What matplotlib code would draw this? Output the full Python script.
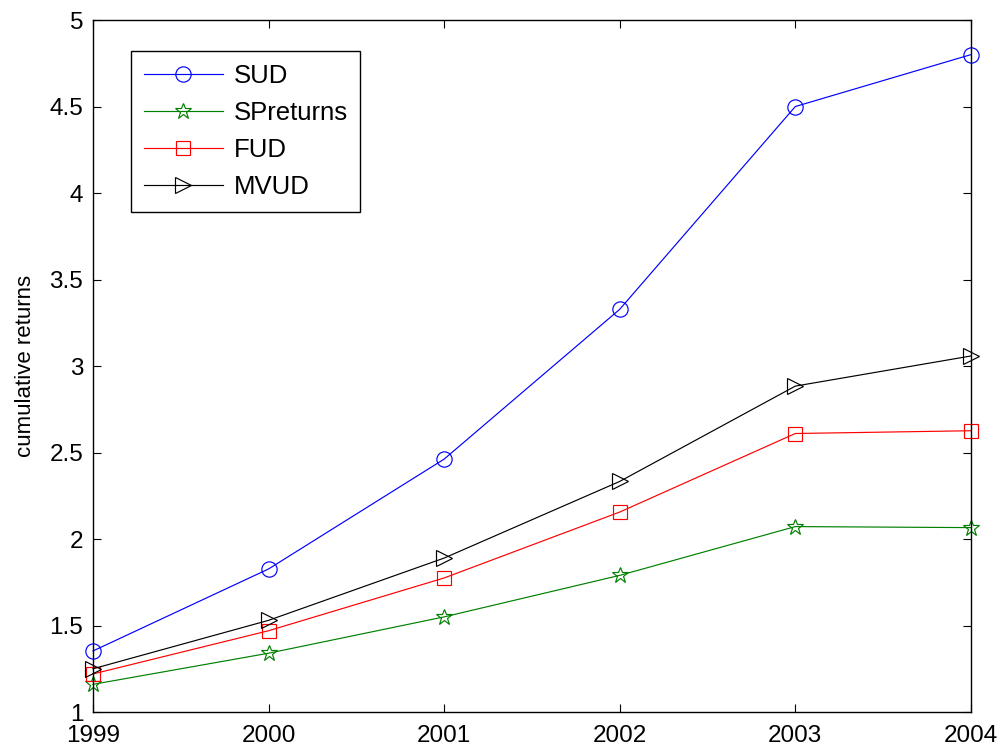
import matplotlib
matplotlib.use("Agg")
import matplotlib.pyplot as plt
from matplotlib.ticker import FuncFormatter

years = [1999, 2000, 2001, 2002, 2003, 2004]
sud = [1.353, 1.827, 2.462, 3.328, 4.50, 4.80]
spreturns = [1.16, 1.34, 1.55, 1.79, 2.072, 2.066]
fud = [1.22, 1.47, 1.775, 2.156, 2.61, 2.626]
mvud = [1.25, 1.53, 1.89, 2.333, 2.884, 3.058]
yticks = [1, 1.5, 2, 2.5, 3, 3.5, 4, 4.5, 5]

plt.rcParams['font.family'] = ['Liberation Sans', 'DejaVu Sans']

fig = plt.figure(figsize=(10.03, 7.53), dpi=100)
ax = fig.add_axes([0.0927, 0.0544, 0.8753, 0.919])

lw = 0.85
ax.plot(years, sud, color='#0000ff', marker='o', ms=11, mfc='none', mec='#0000ff', mew=lw, lw=lw, label='SUD', clip_on=False)
ax.plot(years, spreturns, color='#008000', marker='*', ms=12, mfc='none', mec='#008000', mew=lw, lw=lw, label='SPreturns', clip_on=False)
ax.plot(years, fud, color='#ff0000', marker='s', ms=9.5, mfc='none', mec='#ff0000', mew=lw, lw=lw, label='FUD', clip_on=False)
ax.plot(years, mvud, color='#000000', marker='>', ms=12, mfc='none', mec='#000000', mew=lw, lw=lw, label='MVUD', clip_on=False)

ax.set_xlim(1999, 2004)
ax.set_ylim(1, 5)
ax.set_xticks(years)
ax.set_yticks(yticks)
ax.yaxis.set_major_formatter(FuncFormatter(lambda v, p: f"{v:g}"))
ax.tick_params(direction='in', length=6, width=0.8, labelsize=17.5, top=True, right=True)
ax.tick_params(axis='x', pad=9)
ax.tick_params(axis='y', pad=7)
for s in ax.spines.values():
    s.set_linewidth(1.0)
ax.set_ylabel('cumulative returns', fontsize=16, labelpad=10)

leg = ax.legend(loc='upper left', bbox_to_anchor=(0.043, 0.955), borderaxespad=0,
                fontsize=18.5, numpoints=1,
                handlelength=3.1, fancybox=False, framealpha=1, edgecolor='black',
                borderpad=0.5, labelspacing=0.51, handletextpad=0.4)
leg.get_frame().set_linewidth(1.0)

fig.savefig('out.png', dpi=100)
